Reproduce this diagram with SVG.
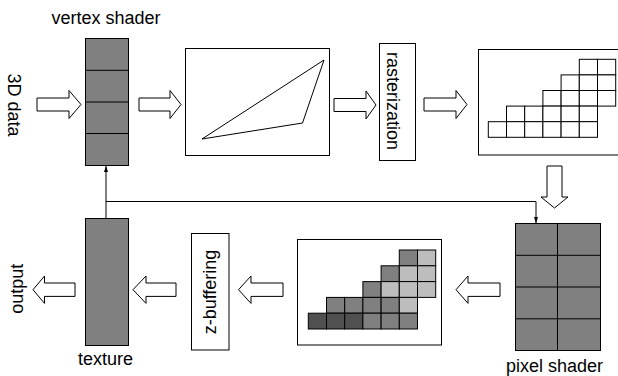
<svg xmlns="http://www.w3.org/2000/svg" width="618" height="376" viewBox="0 0 618 376">
<style>
.box{fill:#fff;stroke:#000;stroke-width:1}
.unit{fill:#808080;stroke:#000;stroke-width:1}
.arr{fill:#fff;stroke:#000;stroke-width:1}
.cell{fill:#fff;stroke:#000;stroke-width:1}
.mid{fill:#808080;stroke:#000;stroke-width:1}
.lt{fill:#bdbdbd;stroke:#000;stroke-width:1}
.dk{fill:#505050;stroke:#000;stroke-width:1}
.ln{fill:none;stroke:#000;stroke-width:1}
text{font-family:"Liberation Sans",Arial,sans-serif;font-size:18px;fill:#000}
</style>
<defs>
<marker id="ah" viewBox="0 0 6 4" refX="6" refY="2" markerWidth="6" markerHeight="4" markerUnits="userSpaceOnUse" orient="auto">
<path d="M0,0 L6,2 L0,4 z" fill="#000"/>
</marker>
</defs>

<g id="connectors">
<path class="ln" d="M106,218 V166" marker-end="url(#ah)"/>
<path class="ln" d="M106,201.5 H536 V223" marker-end="url(#ah)"/>
<polygon class="arr" points="37,98 69,98 69,90.5 81,104.5 69,118.5 69,111 37,111"/>
<polygon class="arr" points="139,98 170,98 170,90.5 181,104.5 170,118.5 170,111 139,111"/>
<polygon class="arr" points="334,98.5 366,98.5 366,91 376,105 366,119 366,111.5 334,111.5"/>
<polygon class="arr" points="424,98 456,98 456,90.5 467,104.5 456,118.5 456,111 424,111"/>
<polygon class="arr" points="547,166 562,166 562,197 568,197 554.5,208 541,197 547,197"/>
<polygon class="arr" points="500,283 468,283 468,276 456,289.7 468,303.4 468,296.4 500,296.4"/>
<polygon class="arr" points="283,283 251,283 251,276 238.5,289.7 251,303.4 251,296.4 283,296.4"/>
<polygon class="arr" points="176,283 146,283 146,276 133,289.7 146,303.4 146,296.4 176,296.4"/>
<polygon class="arr" points="75,283 44.5,283 44.5,276 33,289.7 44.5,303.4 44.5,296.4 75,296.4"/>
</g>

<g id="input">
<text transform="translate(7.5,105) rotate(90)" text-anchor="middle">3D data</text>
</g>

<g id="vertex-shader">
<text x="106" y="24" text-anchor="middle">vertex shader</text>
<rect class="unit" x="85.5" y="38.5" width="43" height="127"/>
<path class="ln" d="M85.5,70.3 H128.5 M85.5,102 H128.5 M85.5,133.5 H128.5"/>
</g>

<g id="triangle">
<rect class="box" x="185.5" y="48.5" width="144" height="107"/>
<polygon fill="none" stroke="#000" stroke-width="1" points="202,139 324,60 302.5,123"/>
</g>

<g id="rasterization">
<rect class="box" x="379.5" y="43.5" width="36" height="117"/>
<text transform="translate(387,101) rotate(90)" text-anchor="middle">rasterization</text>
</g>

<g id="raster-grid">
<rect class="box" x="478.5" y="49.5" width="141" height="105.5"/>
<rect class="cell" x="579.3" y="59.3" width="18.2" height="15.6"/>
<rect class="cell" x="597.5" y="59.3" width="18.2" height="15.6"/>
<rect class="cell" x="561.1" y="74.9" width="18.2" height="15.6"/>
<rect class="cell" x="579.3" y="74.9" width="18.2" height="15.6"/>
<rect class="cell" x="597.5" y="74.9" width="18.2" height="15.6"/>
<rect class="cell" x="542.9" y="90.5" width="18.2" height="15.6"/>
<rect class="cell" x="561.1" y="90.5" width="18.2" height="15.6"/>
<rect class="cell" x="579.3" y="90.5" width="18.2" height="15.6"/>
<rect class="cell" x="597.5" y="90.5" width="18.2" height="15.6"/>
<rect class="cell" x="506.5" y="106.1" width="18.2" height="15.6"/>
<rect class="cell" x="524.7" y="106.1" width="18.2" height="15.6"/>
<rect class="cell" x="542.9" y="106.1" width="18.2" height="15.6"/>
<rect class="cell" x="561.1" y="106.1" width="18.2" height="15.6"/>
<rect class="cell" x="579.3" y="106.1" width="18.2" height="15.6"/>
<rect class="cell" x="488.3" y="121.7" width="18.2" height="15.6"/>
<rect class="cell" x="506.5" y="121.7" width="18.2" height="15.6"/>
<rect class="cell" x="524.7" y="121.7" width="18.2" height="15.6"/>
<rect class="cell" x="542.9" y="121.7" width="18.2" height="15.6"/>
<rect class="cell" x="561.1" y="121.7" width="18.2" height="15.6"/>
<rect class="cell" x="579.3" y="121.7" width="18.2" height="15.6"/>
</g>

<g id="pixel-shader">
<rect class="unit" x="515.5" y="223.5" width="85" height="127"/>
<path class="ln" d="M557.5,223.5 V350.5 M515.5,255.3 H600.5 M515.5,287 H600.5 M515.5,318.8 H600.5"/>
<text x="554.5" y="372" text-anchor="middle">pixel shader</text>
</g>

<g id="shaded-grid">
<rect class="box" x="297.5" y="239.5" width="144" height="105.5"/>
<rect class="mid" x="399.3" y="250" width="18.2" height="15.8"/>
<rect class="lt" x="417.5" y="250" width="18.2" height="15.8"/>
<rect class="mid" x="381.1" y="265.8" width="18.2" height="15.8"/>
<rect class="lt" x="399.3" y="265.8" width="18.2" height="15.8"/>
<rect class="lt" x="417.5" y="265.8" width="18.2" height="15.8"/>
<rect class="mid" x="362.9" y="281.6" width="18.2" height="15.8"/>
<rect class="lt" x="381.1" y="281.6" width="18.2" height="15.8"/>
<rect class="lt" x="399.3" y="281.6" width="18.2" height="15.8"/>
<rect class="lt" x="417.5" y="281.6" width="18.2" height="15.8"/>
<rect class="mid" x="326.5" y="297.4" width="18.2" height="15.8"/>
<rect class="mid" x="344.7" y="297.4" width="18.2" height="15.8"/>
<rect class="mid" x="362.9" y="297.4" width="18.2" height="15.8"/>
<rect class="mid" x="381.1" y="297.4" width="18.2" height="15.8"/>
<rect class="lt" x="399.3" y="297.4" width="18.2" height="15.8"/>
<rect class="dk" x="308.3" y="313.2" width="18.2" height="15.8"/>
<rect class="dk" x="326.5" y="313.2" width="18.2" height="15.8"/>
<rect class="dk" x="344.7" y="313.2" width="18.2" height="15.8"/>
<rect class="mid" x="362.9" y="313.2" width="18.2" height="15.8"/>
<rect class="mid" x="381.1" y="313.2" width="18.2" height="15.8"/>
<rect class="mid" x="399.3" y="313.2" width="18.2" height="15.8"/>
</g>

<g id="z-buffering">
<rect class="box" x="191.5" y="233.5" width="37.5" height="116.5"/>
<text transform="translate(216,292) rotate(-90)" text-anchor="middle">z-buffering</text>
</g>

<g id="texture">
<rect class="unit" x="85.5" y="218.5" width="43" height="127"/>
<text x="105.5" y="365" text-anchor="middle">texture</text>
</g>

<g id="output">
<text transform="translate(23,288.7) rotate(-90)" text-anchor="middle">output</text>
</g>
</svg>
